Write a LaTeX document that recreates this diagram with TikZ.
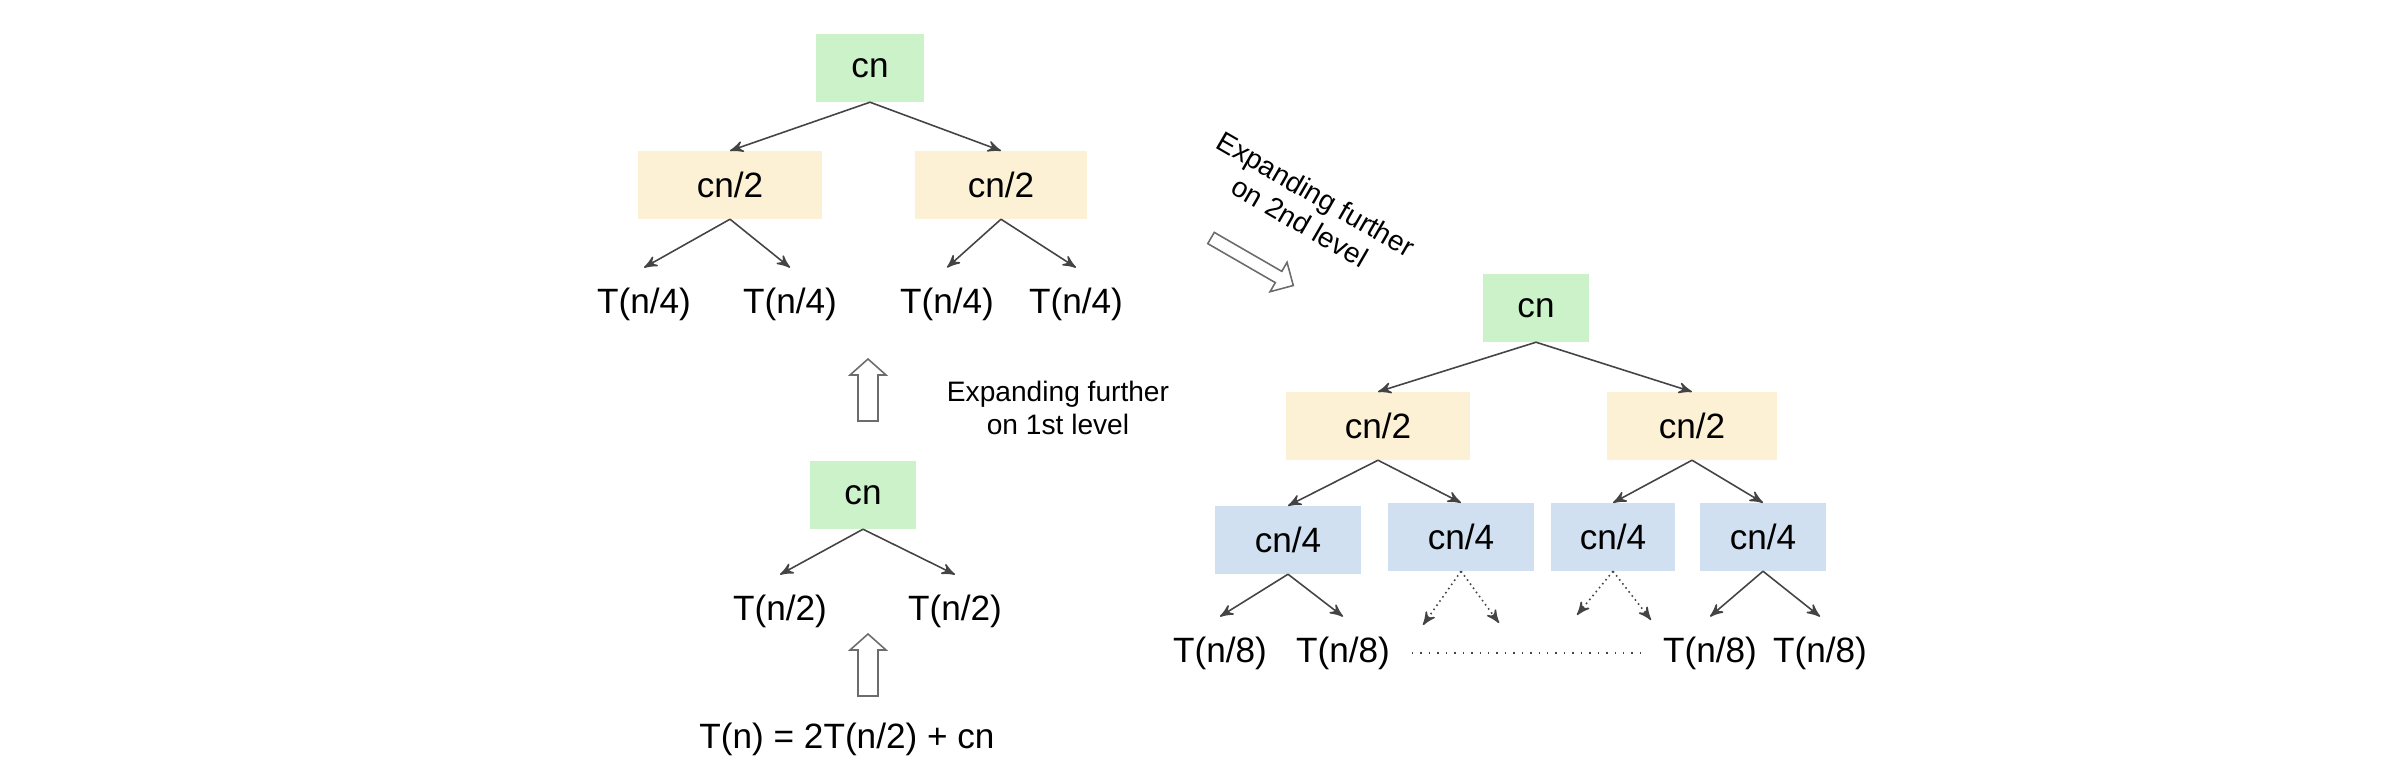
\documentclass[tikz,border=0pt]{standalone}
\usepackage{fontspec}
\setmainfont{Liberation Sans}
\usetikzlibrary{arrows}

\definecolor{cngreen}{HTML}{CCF2C9}
\definecolor{cnyellow}{HTML}{FCF1D5}
\definecolor{cnblue}{HTML}{D0E0F0}
\definecolor{linegray}{HTML}{444444}

\tikzset{
  box/.style={inner sep=0pt, minimum height=0.67cm, font=\fontsize{10}{12}\selectfont},
  rootbox/.style={box, fill=cngreen},
  halfbox/.style={box, fill=cnyellow},
  quarterbox/.style={box, fill=cnblue},
  leaf/.style={inner xsep=0pt, inner ysep=5.5pt, font=\fontsize{10}{12}\selectfont},
  edge/.style={linegray, line width=0.45pt, ->, >=stealth'},
  dotedge/.style={edge, densely dotted},
  note/.style={align=center, font=\fontsize{8}{9.2}\selectfont},
  pics/fatarrow/.style n args={4}{code={
    \draw[gray!85!black, line width=0.45pt, fill=white] (0,-#2) -- ({#1-#4},-#2) -- ({#1-#4},-#3) -- (#1,0) -- ({#1-#4},#3) -- ({#1-#4},#2) -- (0,#2) -- cycle;
  }}
}

\begin{document}
\begin{tikzpicture}[x=0.01cm, y=-0.01cm]
\useasboundingbox (0,0) rectangle (2384,782);

% recurrence and first expansion
\node[leaf] (rec) at (847,739) {T(n) = 2T(n/2) + cn};
\pic[rotate=90] at (868,696) {fatarrow={62}{10}{18}{16}};
\node[rootbox, minimum width=1.05cm] (cnA) at (863,495) {cn};
\node[leaf] (tA1) at (780,611) {T(n/2)};
\node[leaf] (tA2) at (955,611) {T(n/2)};
\draw[edge] (cnA.south) -- (tA1.north);
\draw[edge] (cnA.south) -- (tA2.north);

\pic[rotate=90] at (868,421) {fatarrow={62}{10}{18}{16}};
\node[note] (noteA) at (1058,408) {Expanding further\\on 1st level};

% first level expanded
\node[rootbox, minimum width=1.07cm] (cnB) at (870,68) {cn};
\node[halfbox, minimum width=1.83cm] (hB1) at (730,185) {cn/2};
\node[halfbox, minimum width=1.72cm] (hB2) at (1001,185) {cn/2};
\draw[edge] (cnB.south) -- (hB1.north);
\draw[edge] (cnB.south) -- (hB2.north);
\foreach \name/\x in {tB1/644, tB2/790, tB3/947, tB4/1076} {
  \node[leaf] (\name) at (\x,304) {T(n/4)};
}
\draw[edge] (hB1.south) -- (tB1.north);
\draw[edge] (hB1.south) -- (tB2.north);
\draw[edge] (hB2.south) -- (tB3.north);
\draw[edge] (hB2.south) -- (tB4.north);

\node[note, rotate=-30] (noteB) at (1308,208) {Expanding further\\on 2nd level};
\pic[rotate=-30] at (1211,238) {fatarrow={95}{6.5}{17}{17}};

% second level expanded
\node[rootbox, minimum width=1.06cm] (cnC) at (1536,308) {cn};
\node[halfbox, minimum width=1.83cm] (hC1) at (1378,426) {cn/2};
\node[halfbox, minimum width=1.70cm] (hC2) at (1692,426) {cn/2};
\draw[edge] (cnC.south) -- (hC1.north);
\draw[edge] (cnC.south) -- (hC2.north);
\node[quarterbox, minimum width=1.45cm] (qC1) at (1288,540) {cn/4};
\node[quarterbox, minimum width=1.45cm] (qC2) at (1461,537) {cn/4};
\node[quarterbox, minimum width=1.24cm] (qC3) at (1613,537) {cn/4};
\node[quarterbox, minimum width=1.26cm] (qC4) at (1763,537) {cn/4};
\draw[edge] (hC1.south) -- (qC1.north);
\draw[edge] (hC1.south) -- (qC2.north);
\draw[edge] (hC2.south) -- (qC3.north);
\draw[edge] (hC2.south) -- (qC4.north);
\foreach \name/\x in {tC1/1220, tC2/1343, tC3/1710, tC4/1820} {
  \node[leaf] (\name) at (\x,653) {T(n/8)};
}
\draw[edge] (qC1.south) -- (tC1.north);
\draw[edge] (qC1.south) -- (tC2.north);
\draw[edge] (qC4.south) -- (tC3.north);
\draw[edge] (qC4.south) -- (tC4.north);

% elided middle
\coordinate (d1) at (1423,625);
\coordinate (d2) at (1499,623);
\coordinate (d3) at (1577,615);
\coordinate (d4) at (1651,620);
\draw[dotedge] (qC2.south) -- (d1);
\draw[dotedge] (qC2.south) -- (d2);
\draw[dotedge] (qC3.south) -- (d3);
\draw[dotedge] (qC3.south) -- (d4);
\coordinate (dotsL) at (1412,653);
\coordinate (dotsR) at (1645,653);
\draw[linegray, dotted] (dotsL) -- (dotsR);
\end{tikzpicture}
\end{document}
